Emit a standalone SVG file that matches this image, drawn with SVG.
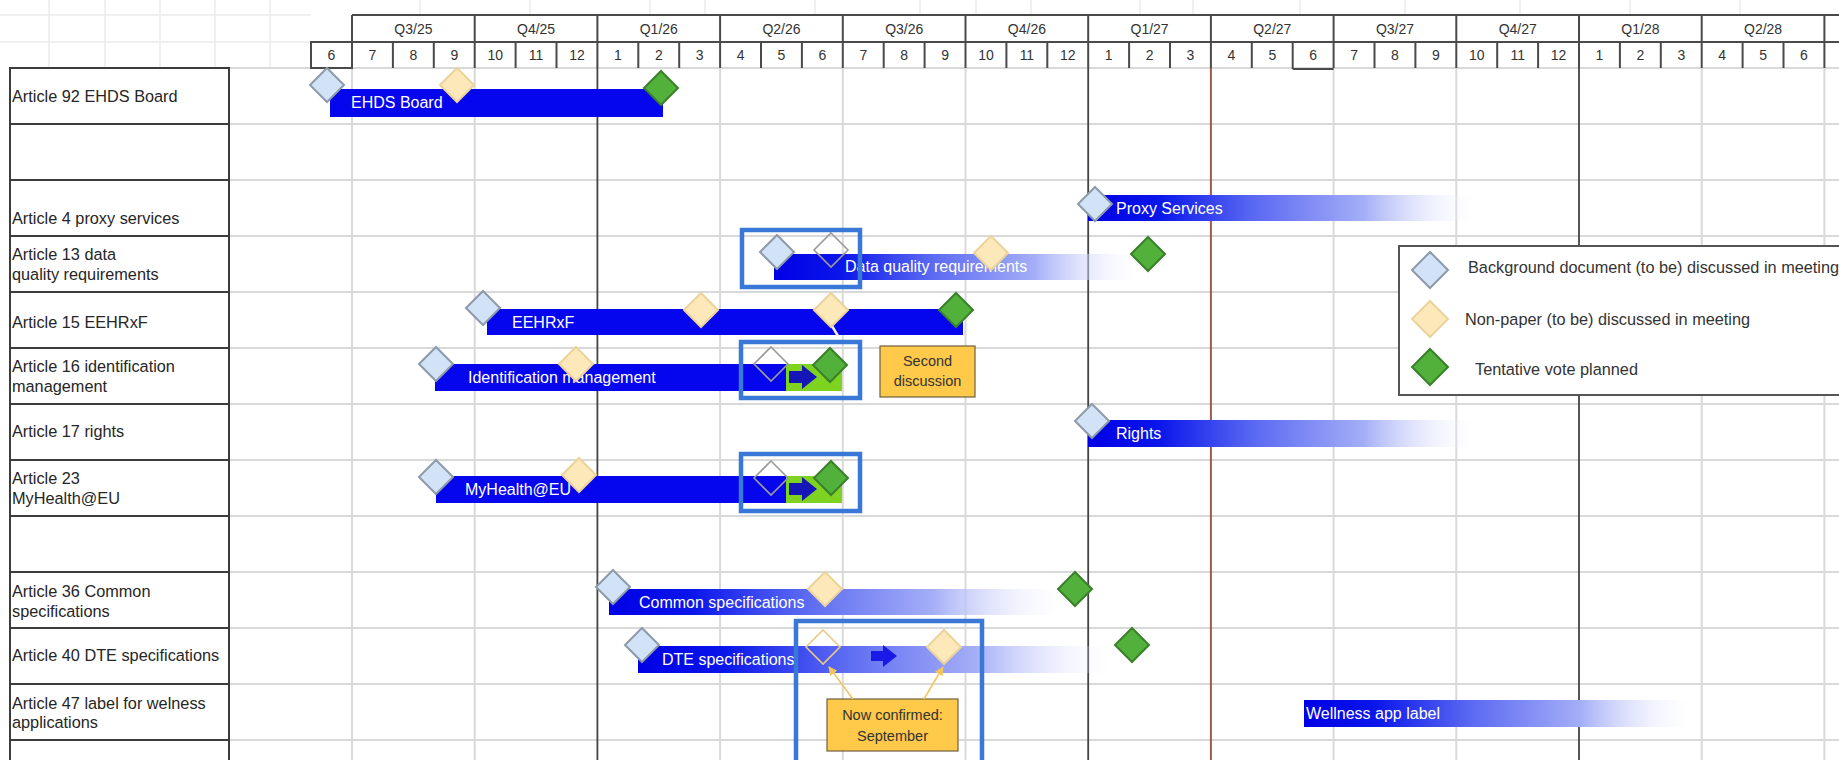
<svg xmlns="http://www.w3.org/2000/svg" xmlns:xlink="http://www.w3.org/1999/xlink" width="1839" height="760" viewBox="0 0 1839 760">
<style>
text{font-family:"Liberation Sans",Arial,sans-serif;}
.hd{font-size:14px;fill:#333;text-anchor:middle;}
.lbl{font-size:16.3px;fill:#262626;}
.bt{font-size:16px;fill:#ffffff;}
.lg{font-size:16.3px;fill:#333;}
.note{font-size:14.5px;fill:#333;text-anchor:middle;}
.bg{fill:#d3e3f7;stroke:#8c9aab;stroke-width:2;}
.np{fill:#fde8b9;stroke:#ecd39c;stroke-width:2;}
.vote{fill:#52b13a;stroke:#3b7f2b;stroke-width:2;}
.ghost{fill:none;stroke:#9a9a9a;stroke-width:1.6;}
.ghosty{fill:none;stroke:#ecc987;stroke-width:1.6;}
.solid{fill:#0505ee;}
.fade{fill:url(#fadeGrad);}
.lime{fill:#7ed321;}
.hl{fill:none;stroke:#3a78d8;stroke-width:4.5;}
.box{fill:#ffc94a;stroke:#6f6040;stroke-width:1.2;}
.rowbox{fill:#ffffff;stroke:#3c3c3c;stroke-width:2;}
.faint{stroke:#ececec;stroke-width:1.5;fill:none;}
.gl{stroke:#d9d9d9;stroke-width:2;fill:none;}
.dk{stroke:#4a4a4a;stroke-width:2;fill:none;}
</style>
<defs>
<linearGradient id="fadeGrad" x1="0" y1="0" x2="1" y2="0">
<stop offset="0" stop-color="#0000e6"/>
<stop offset="0.18" stop-color="#0a16ea"/>
<stop offset="0.42" stop-color="#5a69f2"/>
<stop offset="0.7" stop-color="#a4aef7"/>
<stop offset="1" stop-color="#ffffff" stop-opacity="0"/>
</linearGradient>
<polygon id="dia" points="0,-17 17,0 0,17 -17,0"/>
<polygon id="diaL" points="0,-18 18,0 0,18 -18,0"/>
<marker id="arr" viewBox="0 0 10 10" refX="9" refY="5" markerWidth="6" markerHeight="6" orient="auto">
<path d="M0 0 L10 5 L0 10 Z" fill="#f2c55c"/>
</marker>
</defs>
<rect x="0" y="0" width="1839" height="760" fill="#ffffff"/>

<g id="background-grid">
<path class="faint" d="M49 0V68M105 0V68M160 0V68M215 0V68M270 0V68M0 15H311M0 42H311M420 0V15M530 0V15M650 0V15M705 0V15M815 0V15M920 0V15M976 0V15M1031 0V15M1140 0V15M1193 0V15M1300 0V15M1405 0V15M1520 0V15M1630 0V15M1740 0V15"/>
<path class="gl" d="M229 68H1839M229 124H1839M229 180H1839M229 236H1839M229 292H1839M229 348H1839M229 404H1839M229 460H1839M229 516H1839M229 572H1839M229 628H1839M229 684H1839M229 740H1839"/>
<path class="gl" d="M352 68V760M474.7 68V760M720.1 68V760M842.8 68V760M965.5 68V760M1333.6 68V760M1456.3 68V760M1701.7 68V760M1824.4 68V760"/>
<path d="M597.4 68V760M1088.2 68V760M1579 68V760" stroke="#444" stroke-width="1.8" fill="none"/>
<path d="M1210.9 68V760" stroke="#9c5b4b" stroke-width="2" fill="none"/>
</g>

<g id="header">
<path class="dk" d="M352 15H1839M352 42H1839"/>
<path class="dk" d="M352 15V68M474.7 15V68M597.4 15V68M720.1 15V68M842.8 15V68M965.5 15V68M1088.2 15V68M1210.9 15V68M1333.6 15V68M1456.3 15V68M1579 15V68M1701.7 15V68M1824.4 15V68"/>
<path class="dk" d="M392.9 42V68M433.8 42V68M515.6 42V68M556.5 42V68M638.3 42V68M679.2 42V68M761 42V68M801.9 42V68M883.7 42V68M924.6 42V68M1006.4 42V68M1047.3 42V68M1129.1 42V68M1170 42V68M1251.8 42V68M1292.7 42V69M1374.5 42V68M1415.4 42V68M1497.2 42V68M1538.1 42V68M1619.9 42V68M1660.8 42V68M1742.6 42V68M1783.5 42V68"/>
<rect x="311" y="42" width="41" height="26" class="dk"/>
<path class="dk" d="M1292.7 69H1333.6"/>
<text class="hd" x="413.4" y="33.5">Q3/25</text>
<text class="hd" x="536.1" y="33.5">Q4/25</text>
<text class="hd" x="658.8" y="33.5">Q1/26</text>
<text class="hd" x="781.5" y="33.5">Q2/26</text>
<text class="hd" x="904.2" y="33.5">Q3/26</text>
<text class="hd" x="1026.9" y="33.5">Q4/26</text>
<text class="hd" x="1149.6" y="33.5">Q1/27</text>
<text class="hd" x="1272.3" y="33.5">Q2/27</text>
<text class="hd" x="1395" y="33.5">Q3/27</text>
<text class="hd" x="1517.7" y="33.5">Q4/27</text>
<text class="hd" x="1640.4" y="33.5">Q1/28</text>
<text class="hd" x="1763.1" y="33.5">Q2/28</text>
<text class="hd" x="331.5" y="60">6</text>
<text class="hd" x="372.5" y="60">7</text>
<text class="hd" x="413.4" y="60">8</text>
<text class="hd" x="454.3" y="60">9</text>
<text class="hd" x="495.2" y="60">10</text>
<text class="hd" x="536.1" y="60">11</text>
<text class="hd" x="577" y="60">12</text>
<text class="hd" x="617.9" y="60">1</text>
<text class="hd" x="658.8" y="60">2</text>
<text class="hd" x="699.7" y="60">3</text>
<text class="hd" x="740.6" y="60">4</text>
<text class="hd" x="781.5" y="60">5</text>
<text class="hd" x="822.4" y="60">6</text>
<text class="hd" x="863.3" y="60">7</text>
<text class="hd" x="904.2" y="60">8</text>
<text class="hd" x="945.1" y="60">9</text>
<text class="hd" x="986" y="60">10</text>
<text class="hd" x="1026.9" y="60">11</text>
<text class="hd" x="1067.8" y="60">12</text>
<text class="hd" x="1108.7" y="60">1</text>
<text class="hd" x="1149.6" y="60">2</text>
<text class="hd" x="1190.5" y="60">3</text>
<text class="hd" x="1231.4" y="60">4</text>
<text class="hd" x="1272.3" y="60">5</text>
<text class="hd" x="1313.2" y="60">6</text>
<text class="hd" x="1354.1" y="60">7</text>
<text class="hd" x="1395" y="60">8</text>
<text class="hd" x="1435.9" y="60">9</text>
<text class="hd" x="1476.8" y="60">10</text>
<text class="hd" x="1517.7" y="60">11</text>
<text class="hd" x="1558.6" y="60">12</text>
<text class="hd" x="1599.5" y="60">1</text>
<text class="hd" x="1640.4" y="60">2</text>
<text class="hd" x="1681.3" y="60">3</text>
<text class="hd" x="1722.2" y="60">4</text>
<text class="hd" x="1763.1" y="60">5</text>
<text class="hd" x="1804" y="60">6</text>
</g>

<g id="row-labels">
<g id="label-art92"><rect class="rowbox" x="10" y="68" width="219" height="56"/><text class="lbl" x="12" y="101.5">Article 92 EHDS Board</text></g>
<g id="label-empty1"><rect class="rowbox" x="10" y="124" width="219" height="56"/></g>
<g id="label-art4"><rect class="rowbox" x="10" y="180" width="219" height="56"/><text class="lbl" x="12" y="223.5">Article 4 proxy services</text></g>
<g id="label-art13"><rect class="rowbox" x="10" y="236" width="219" height="56"/><text class="lbl" x="12" y="259.5">Article 13 data</text><text class="lbl" x="12" y="280">quality requirements</text></g>
<g id="label-art15"><rect class="rowbox" x="10" y="292" width="219" height="56"/><text class="lbl" x="12" y="327.5">Article 15 EEHRxF</text></g>
<g id="label-art16"><rect class="rowbox" x="10" y="348" width="219" height="56"/><text class="lbl" x="12" y="371.5">Article 16 identification</text><text class="lbl" x="12" y="391.5">management</text></g>
<g id="label-art17"><rect class="rowbox" x="10" y="404" width="219" height="56"/><text class="lbl" x="12" y="436.5">Article 17 rights</text></g>
<g id="label-art23"><rect class="rowbox" x="10" y="460" width="219" height="56"/><text class="lbl" x="12" y="483.5">Article 23</text><text class="lbl" x="12" y="504">MyHealth@EU</text></g>
<g id="label-empty2"><rect class="rowbox" x="10" y="516" width="219" height="56"/></g>
<g id="label-art36"><rect class="rowbox" x="10" y="572" width="219" height="56"/><text class="lbl" x="12" y="596.5">Article 36 Common</text><text class="lbl" x="12" y="616.5">specifications</text></g>
<g id="label-art40"><rect class="rowbox" x="10" y="628" width="219" height="56"/><text class="lbl" x="12" y="660.5">Article 40 DTE specifications</text></g>
<g id="label-art47"><rect class="rowbox" x="10" y="684" width="219" height="56"/><text class="lbl" x="12" y="708.5">Article 47 label for welness</text><text class="lbl" x="12" y="728">applications</text></g>
<g id="label-empty3"><rect class="rowbox" x="10" y="740" width="219" height="40"/></g>
</g>

<g id="task-ehds-board">
<rect class="solid" x="330" y="89" width="333" height="28"/>
<text class="bt" x="351" y="107.5">EHDS Board</text>
<use xlink:href="#dia" href="#dia" x="327" y="85" class="bg"/>
<use xlink:href="#dia" href="#dia" x="457" y="85" class="np"/>
<use xlink:href="#dia" href="#dia" x="661" y="88" class="vote"/>
</g>

<g id="task-proxy">
<rect class="fade" x="1088" y="195" width="394" height="26"/>
<text class="bt" x="1116" y="214">Proxy Services</text>
<use xlink:href="#dia" href="#dia" x="1095" y="204" class="bg"/>
</g>

<g id="task-data-quality">
<rect class="fade" x="774" y="254" width="372" height="26"/>
<text class="bt" x="845" y="271.5">Data quality requirements</text>
<use xlink:href="#dia" href="#dia" x="777" y="252" class="bg"/>
<use xlink:href="#dia" href="#dia" x="831" y="250" class="ghost"/>
<use xlink:href="#dia" href="#dia" x="991" y="253" class="np"/>
<use xlink:href="#dia" href="#dia" x="1148" y="254" class="vote"/>
<rect class="hl" x="742" y="230" width="118" height="57"/>
</g>

<g id="task-eehrxf">
<rect class="solid" x="487" y="309" width="476" height="26"/>
<text class="bt" x="512" y="327.5">EEHRxF</text>
<path d="M832 326 L838 336" stroke="#f4f0e6" stroke-width="2.5"/>
<use xlink:href="#dia" href="#dia" x="483" y="308" class="bg"/>
<use xlink:href="#dia" href="#dia" x="701" y="310" class="np"/>
<use xlink:href="#dia" href="#dia" x="831" y="310" class="np"/>
<use xlink:href="#dia" href="#dia" x="956" y="310" class="vote"/>
</g>

<g id="task-identification">
<rect class="solid" x="435" y="364" width="351" height="27"/>
<rect class="lime" x="786" y="364" width="56" height="27"/>
<text class="bt" x="468" y="382.5">Identification management</text>
<use xlink:href="#dia" href="#dia" x="436" y="364" class="bg"/>
<use xlink:href="#dia" href="#dia" x="576" y="364" class="np"/>
<use xlink:href="#dia" href="#dia" x="771" y="364" class="ghost"/>
<path d="M789 371 H802 V365 L817 377 L802 389 V383 H789 Z" fill="#1515b8"/>
<use xlink:href="#dia" href="#dia" x="830" y="365" class="vote"/>
<rect class="hl" x="741" y="342" width="119" height="56"/>
</g>

<g id="second-discussion">
<rect class="box" x="880" y="346" width="95" height="51"/>
<text class="note" x="927.5" y="365.5">Second</text>
<text class="note" x="927.5" y="386">discussion</text>
</g>

<g id="task-rights">
<rect class="fade" x="1088" y="420" width="394" height="27"/>
<text class="bt" x="1116" y="438.5">Rights</text>
<use xlink:href="#dia" href="#dia" x="1092" y="421" class="bg"/>
</g>

<g id="task-myhealth">
<rect class="solid" x="436" y="476" width="350" height="27"/>
<rect class="lime" x="786" y="476" width="56" height="27"/>
<text class="bt" x="465" y="494.5">MyHealth@EU</text>
<use xlink:href="#dia" href="#dia" x="436" y="477" class="bg"/>
<use xlink:href="#dia" href="#dia" x="579" y="475" class="np"/>
<use xlink:href="#dia" href="#dia" x="771" y="478" class="ghost"/>
<path d="M789 483 H802 V477 L817 489 L802 501 V495 H789 Z" fill="#1515b8"/>
<use xlink:href="#dia" href="#dia" x="831" y="478" class="vote"/>
<rect class="hl" x="741" y="454" width="119" height="57"/>
</g>

<g id="task-common-specs">
<rect class="fade" x="609" y="589" width="462" height="26"/>
<text class="bt" x="639" y="607.5">Common specifications</text>
<use xlink:href="#dia" href="#dia" x="613" y="587" class="bg"/>
<use xlink:href="#dia" href="#dia" x="825" y="589" class="np"/>
<use xlink:href="#dia" href="#dia" x="1075" y="589" class="vote"/>
</g>

<g id="task-dte-specs">
<rect class="fade" x="638" y="646" width="482" height="27"/>
<text class="bt" x="662" y="664.5">DTE specifications</text>
<use xlink:href="#dia" href="#dia" x="642" y="645" class="bg"/>
<use xlink:href="#dia" href="#dia" x="823" y="647" class="ghosty"/>
<path d="M871 651 H883 V645 L897 656 L883 667 V661 H871 Z" fill="#1a1ae6"/>
<use xlink:href="#dia" href="#dia" x="944" y="647" class="np"/>
<use xlink:href="#dia" href="#dia" x="1132" y="645" class="vote"/>
<rect class="hl" x="796" y="621" width="186" height="150"/>
</g>

<g id="now-confirmed">
<rect class="box" x="827" y="699" width="131" height="52"/>
<text class="note" x="892.5" y="720">Now confirmed:</text>
<text class="note" x="892.5" y="740.5">September</text>
</g>

<g id="task-wellness">
<rect class="fade" x="1304" y="700" width="395" height="27"/>
<text class="bt" x="1306" y="718.5">Wellness app label</text>
</g>

<g id="connectors">
<path d="M853 699 L829 667" stroke="#f2c55c" stroke-width="1.5" fill="none" marker-end="url(#arr)"/>
<path d="M924 699 L943 667" stroke="#f2c55c" stroke-width="1.5" fill="none" marker-end="url(#arr)"/>
</g>

<g id="legend">
<rect x="1399" y="246" width="460" height="149" fill="#ffffff" stroke="#555" stroke-width="2"/>
<use xlink:href="#diaL" href="#diaL" x="1430" y="270" class="bg"/>
<text class="lg" x="1468" y="272.5">Background document (to be) discussed in meeting</text>
<use xlink:href="#diaL" href="#diaL" x="1430" y="319" class="np"/>
<text class="lg" x="1465" y="324.5">Non-paper (to be) discussed in meeting</text>
<use xlink:href="#diaL" href="#diaL" x="1430" y="367" class="vote"/>
<text class="lg" x="1475" y="374.5">Tentative vote planned</text>
</g>
</svg>
